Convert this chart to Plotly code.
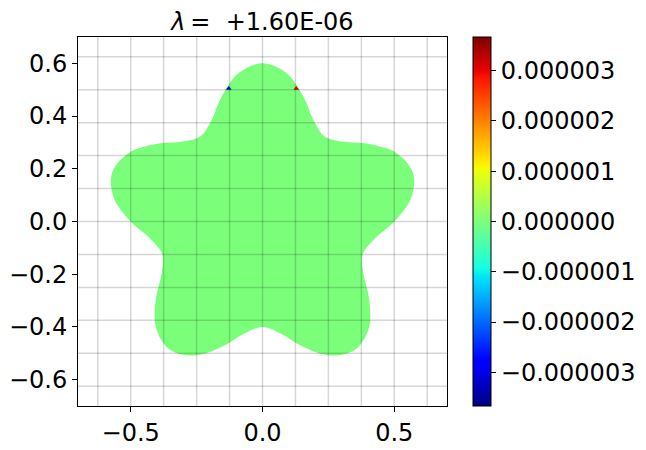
import numpy as np
import plotly.graph_objects as go

# ---- data ----
boundary_angle_deg = list(range(0, 360, 9))
boundary_radius = [0.5, 0.571, 0.6, 0.571, 0.5, 0.429, 0.4, 0.429] * 5
field_value = 0.0                      # value over the star (green)
speck_x = [-0.128, 0.128]
speck_y = [0.505, 0.505]
speck_value = [-3.0e-6, 3.0e-6]
cmin, cmax = -3.67e-6, 3.67e-6
cbar_tickvals = [-3e-6, -2e-6, -1e-6, 0, 1e-6, 2e-6, 3e-6]
cbar_ticktext = ["\u22120.000003", "\u22120.000002", "\u22120.000001", "0.000000",
                 "0.000001", "0.000002", "0.000003"]
x_tickvals = [-0.5, 0.0, 0.5]
x_ticktext = ["\u22120.5", "0.0", "0.5"]
y_tickvals = [-0.6, -0.4, -0.2, 0.0, 0.2, 0.4, 0.6]
y_ticktext = ["\u22120.6", "\u22120.4", "\u22120.2", "0.0", "0.2", "0.4", "0.6"]
grid_pos = [-0.625, -0.5, -0.375, -0.25, -0.125, 0.0, 0.125, 0.25, 0.375, 0.5, 0.625]
title_text = "<i>\u03bb</i>\u2009=\u00a0\u00a0+1.60E-06"

# ---- matplotlib jet colormap ----
seg = {
    "r": [(0, 0), (0.35, 0), (0.66, 1), (0.89, 1), (1, 0.5)],
    "g": [(0, 0), (0.125, 0), (0.375, 1), (0.64, 1), (0.91, 0), (1, 0)],
    "b": [(0, 0.5), (0.11, 1), (0.34, 1), (0.65, 0), (1, 0)],
}
def jet(t):
    out = []
    for k in "rgb":
        xs = [p[0] for p in seg[k]]; ys = [p[1] for p in seg[k]]
        out.append(int(round(255 * np.interp(t, xs, ys))))
    return "rgb(%d,%d,%d)" % tuple(out)
stops = sorted(set([p[0] for k in seg for p in seg[k]]))
jet_scale = [[s, jet(s)] for s in stops]

th = np.deg2rad(boundary_angle_deg)
r = np.array(boundary_radius)
bx = list(r * np.cos(th)); by = list(r * np.sin(th))
bx.append(bx[0]); by.append(by[0])

fill_color = jet((field_value - cmin) / (cmax - cmin))

FONT = "DejaVu Sans"
FS = 24
W, H = 638, 442   # page body has an 8px margin
fig = go.Figure()
fig.add_trace(go.Scatter(x=bx, y=by, mode="lines", line=dict(width=0, shape="spline", smoothing=1.0),
                         fill="toself", fillcolor=fill_color, hoverinfo="skip", showlegend=False))
fig.add_trace(go.Scatter(x=speck_x, y=speck_y, mode="markers",
                         marker=dict(size=5, symbol="triangle-up", color=speck_value,
                                     colorscale=jet_scale, cmin=cmin, cmax=cmax,
                                     showscale=True,
                                     colorbar=dict(x=(473 - 78) / 369, xanchor="left", xpad=0, y=0.5, yanchor="middle",
                                                   len=1.0, lenmode="fraction", ypad=0,
                                                   thickness=18, thicknessmode="pixels",
                                                   outlinewidth=1, outlinecolor="black",
                                                   tickmode="array", tickvals=cbar_tickvals, ticktext=cbar_ticktext,
                                                   ticks="outside", ticklen=5, tickcolor="black",
                                                   tickfont=dict(family=FONT, size=FS, color="black"))),
                         showlegend=False, hoverinfo="skip"))

shapes = []
for g in grid_pos:
    shapes.append(dict(type="line", xref="x", yref="paper", x0=g, x1=g, y0=0, y1=1,
                       line=dict(color="rgba(0,0,0,0.16)", width=1.5), layer="above"))
    shapes.append(dict(type="line", xref="paper", yref="y", x0=0, x1=1, y0=g, y1=g,
                       line=dict(color="rgba(0,0,0,0.16)", width=1.5), layer="above"))

axis_common = dict(showgrid=False, zeroline=False, showline=True, mirror=True, linecolor="black",
                   linewidth=1, ticks="outside", ticklen=5, tickcolor="black",
                   tickfont=dict(family=FONT, size=FS, color="black"), tickmode="array")
fig.update_layout(
    width=W, height=H,
    margin=dict(l=70, r=W - 70 - 369, t=29, b=H - 29 - 369, autoexpand=False),
    paper_bgcolor="white", plot_bgcolor="white",
    title=dict(text=title_text, x=254.5 / W, xanchor="center", y=1 - 14 / H, yanchor="middle",
               font=dict(family=FONT, size=FS, color="black")),
    xaxis=dict(range=[-0.7, 0.7], tickvals=x_tickvals, ticktext=x_ticktext, **axis_common),
    yaxis=dict(range=[-0.7, 0.7], tickvals=y_tickvals, ticktext=y_ticktext, **axis_common),
    shapes=shapes,
)
fig.write_html("out.html")
